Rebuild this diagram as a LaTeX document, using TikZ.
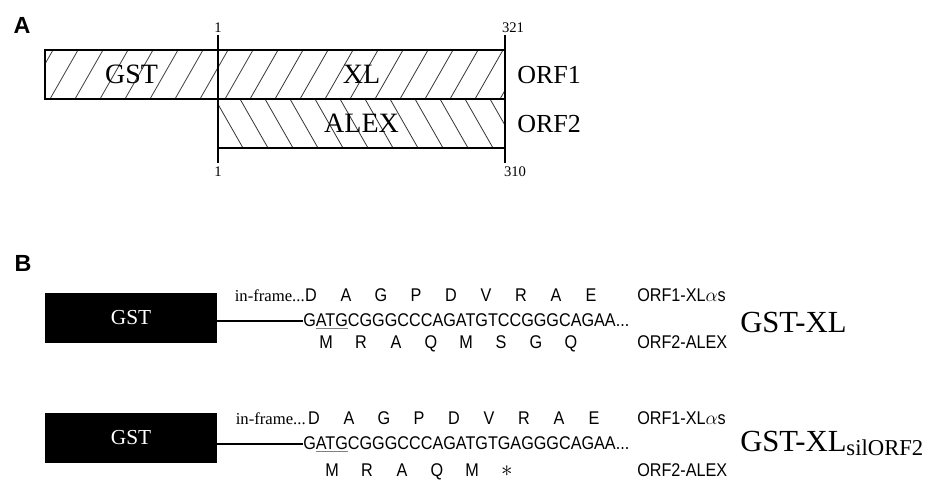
\documentclass[tikz,border=0pt]{standalone}
\usepackage{fontspec}
\setmainfont{Liberation Serif}
\setsansfont{Liberation Sans}
\newfontfamily\seqfont{Liberation Sans}[FakeStretch=0.88]
\newcommand{\startcodon}[1]{\rlap{\color{gray}\underline{\phantom{#1}}}#1}

\begin{document}
\begin{tikzpicture}[
   x=0.75pt,y=-0.75pt,
   panel/.style={font=\sffamily\bfseries\fontsize{17.5}{20}\selectfont,inner sep=0pt},
   boxlabel/.style={font=\fontsize{21}{24}\selectfont,inner sep=0pt},
   orflabel/.style={font=\fontsize{19.5}{22}\selectfont,anchor=west,inner sep=0pt},
   resnum/.style={font=\fontsize{11}{12}\selectfont,inner sep=0pt},
   hatch/.style={black!80,line width=0.6pt},
   outline/.style={draw,line width=1.1pt},
   fusion/.style={fill=black,text=white,font=\fontsize{16}{18}\selectfont,
     minimum width=129pt,minimum height=37.5pt,inner sep=0pt},
   aa/.style={font=\seqfont\fontsize{13.8}{15}\selectfont,anchor=base,inner sep=0pt},
   nt/.style={font=\seqfont\fontsize{13.8}{15}\selectfont,anchor=base west,inner sep=0pt},
   tag/.style={font=\seqfont\fontsize{13.8}{15}\selectfont,anchor=base west,inner sep=0pt},
   note/.style={font=\fontsize{12.5}{14}\selectfont,anchor=base east,inner sep=0pt},
   construct/.style={font=\fontsize{23}{26}\selectfont,anchor=base west,inner sep=0pt}
 ]
  \useasboundingbox (0,0) rectangle (934,481);
  % panel A
  \node[panel] (lblA) at (22,25) {A};
  \begin{scope}
    \clip (45,50) rectangle (505,99);
    \foreach \x in {0,25,...,525} \draw[hatch] (\x,99) -- ++(28,-49);
  \end{scope}
  \begin{scope}
    \clip (218,99) rectangle (505,148);
    \foreach \x in {190,215,...,505} \draw[hatch] (\x,99) -- ++(28,49);
  \end{scope}
  \draw[outline] (45,50) rectangle (505,99);
  \draw[outline] (218,99) rectangle (505,148);
  \draw[line width=0.9pt] (218,35) -- (218,163);
  \draw[line width=0.9pt] (505,35) -- (505,163);
  \node[boxlabel] (gstA) at (131.5,74.5) {GST};
  \node[boxlabel] (xl) at (361.5,74.5) {XL};
  \node[boxlabel] (alex) at (361.5,123.5) {ALEX};
  \node[orflabel] (orf1) at (517,75) {ORF1};
  \node[orflabel] (orf2) at (517,124) {ORF2};
  \node[resnum] (startxl) at (218,28) {1};
  \node[resnum] (endxl) at (513,28) {321};
  \node[resnum] (startalex) at (218,172) {1};
  \node[resnum] (endalex) at (515,172) {310};
  % panel B
  \node[panel] (lblB) at (23,263) {B};
  % GST-XL
  \node[fusion] (gst1) at (131,318) {GST};
  \node[note] (frame1) at (305,301) {in-frame...};
  \foreach \a [count=\i from 0] in {D,A,G,P,D,V,R,A,E}
    \node[aa] (xla\i) at ({311+35*\i},301) {\a};
  \node[nt] (seq1) at (303,326) {G\startcodon{ATG}CGGGCCCAGATGTCCGGGCAGAA...};
  \foreach \a [count=\i from 0] in {M,R,A,Q,M,S,G,Q}
    \node[aa] (alexa\i) at ({326+35*\i},348) {\a};
  \node[tag] (tag1a) at (637,301) {ORF1-XL$\alpha$s};
  \node[tag] (tag1b) at (637,348) {ORF2-ALEX};
  \node[construct] (name1) at (740,332) {GST-XL};
  \draw[line width=0.8pt] (gst1.east |- seq1.west) -- (seq1.west);
  % GST-XL silORF2
  \node[fusion] (gst2) at (131,438) {GST};
  \node[note] (frame2) at (306,424) {in-frame...};
  \foreach \a [count=\i from 0] in {D,A,G,P,D,V,R,A,E}
    \node[aa] (xlb\i) at ({314+35*\i},424) {\a};
  \node[nt] (seq2) at (303,449) {G\startcodon{ATG}CGGGCCCAGATGTGAGGGCAGAA...};
  \foreach \a [count=\i from 0] in {M,R,A,Q,M,{\fontsize{19}{20}\selectfont$\ast$}}
    \node[aa] (alexb\i) at ({332+35*\i},476) {\a};
  \node[tag] (tag2a) at (637,424) {ORF1-XL$\alpha$s};
  \node[tag] (tag2b) at (637,476) {ORF2-ALEX};
  \node[construct] (name2) at (740,451) {GST-XL\raisebox{-3.5pt}{\fontsize{17}{18}\selectfont silORF2}};
  \draw[line width=0.8pt] (gst2.east |- seq2.west) -- (seq2.west);
 \end{tikzpicture}
\end{document}
